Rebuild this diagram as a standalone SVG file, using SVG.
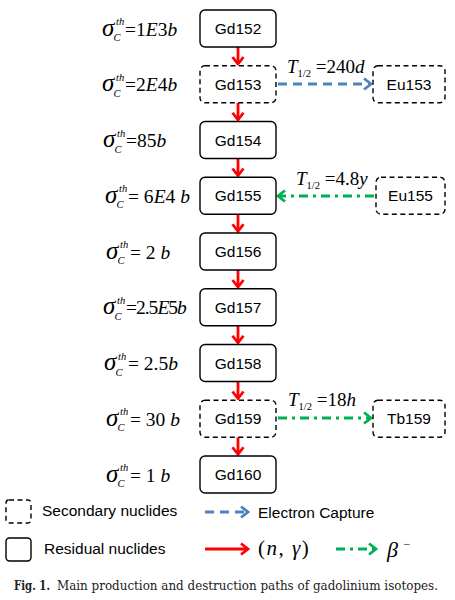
<svg xmlns="http://www.w3.org/2000/svg" width="455" height="600" viewBox="0 0 455 600">
<style>
.box{fill:#fff;stroke:#000;stroke-width:1.4}
.sec{stroke-dasharray:5,3.5}
.lbl{font-family:"Liberation Sans",Arial,sans-serif;font-size:15.5px;text-anchor:middle;fill:#000}
.m{font-family:"Liberation Serif","Times New Roman",serif;fill:#000}
.it{font-style:italic}
.sg{font-size:25px;font-style:italic}
.sp{font-size:10.5px;font-style:italic}
.eq{font-size:19.5px}
.red{stroke:#ff0000;stroke-width:2.8;fill:none}
.blue{stroke:#4f81bd;stroke-width:3;fill:none;stroke-dasharray:9,6}
.green{stroke:#00b050;stroke-width:3;fill:none;stroke-dasharray:9,5,3,5}
.leg{font-family:"Liberation Sans",Arial,sans-serif;font-size:15.5px;fill:#000}
</style>
<defs>
<marker id="ar" markerUnits="userSpaceOnUse" markerWidth="14" markerHeight="14" refX="10" refY="7" orient="auto" overflow="visible"><path d="M3,1.5 L10,7 L3,12.5" fill="none" stroke="#ff0000" stroke-width="2.8"/></marker>
<marker id="ab" markerUnits="userSpaceOnUse" markerWidth="14" markerHeight="14" refX="10" refY="7" orient="auto" overflow="visible"><path d="M3,1.5 L10,7 L3,12.5" fill="none" stroke="#4f81bd" stroke-width="2.8"/></marker>
<marker id="ag" markerUnits="userSpaceOnUse" markerWidth="14" markerHeight="14" refX="10" refY="7" orient="auto" overflow="visible"><path d="M3,1.5 L10,7 L3,12.5" fill="none" stroke="#00b050" stroke-width="2.8"/></marker>
</defs>
<rect width="455" height="600" fill="#fff"/>

<g id="connectors">
<line class="red" x1="238" y1="47" x2="238" y2="64" marker-end="url(#ar)"/>
<line class="red" x1="238" y1="102.75" x2="238" y2="119.75" marker-end="url(#ar)"/>
<line class="red" x1="238" y1="158.5" x2="238" y2="175.5" marker-end="url(#ar)"/>
<line class="red" x1="238" y1="214.25" x2="238" y2="231.25" marker-end="url(#ar)"/>
<line class="red" x1="238" y1="270" x2="238" y2="287" marker-end="url(#ar)"/>
<line class="red" x1="238" y1="325.75" x2="238" y2="342.75" marker-end="url(#ar)"/>
<line class="red" x1="238" y1="381.5" x2="238" y2="398.5" marker-end="url(#ar)"/>
<line class="red" x1="238" y1="437.25" x2="238" y2="454.25" marker-end="url(#ar)"/>
<line class="blue" x1="278" y1="84" x2="371" y2="84" marker-end="url(#ab)"/>
<line class="green" x1="374" y1="196" x2="278" y2="196" marker-end="url(#ag)"/>
<line class="green" x1="278" y1="418" x2="371" y2="418" marker-end="url(#ag)"/>
</g>

<g id="halflife" class="m it">
<text x="287" y="73" font-size="19">T<tspan font-size="10.5" dy="4" font-style="normal">1/2</tspan><tspan dy="-4" font-style="normal"> =240</tspan>d</text>
<text x="296" y="185" font-size="19">T<tspan font-size="10.5" dy="4" font-style="normal">1/2</tspan><tspan dy="-4" font-style="normal"> =4.8</tspan>y</text>
<text x="288" y="406" font-size="19">T<tspan font-size="10.5" dy="4" font-style="normal">1/2</tspan><tspan dy="-4" font-style="normal"> =18</tspan>h</text>
</g>

<g id="sigmas" class="m">
<g id="s0"><text x="102" y="35.5" class="sg">σ</text><text x="116" y="25" class="sp">th</text><text x="113.5" y="41" class="sp">C</text><text x="125" y="35.5" class="eq">=1<tspan font-style="italic">E</tspan>3<tspan font-style="italic">b</tspan></text></g>
<g id="s1"><text x="102" y="91" class="sg">σ</text><text x="116" y="80.5" class="sp">th</text><text x="113.5" y="96.5" class="sp">C</text><text x="125" y="91" class="eq">=2<tspan font-style="italic">E</tspan>4<tspan font-style="italic">b</tspan></text></g>
<g id="s2"><text x="103" y="147" class="sg">σ</text><text x="117" y="136.5" class="sp">th</text><text x="114.5" y="152.5" class="sp">C</text><text x="126" y="147" class="eq">=85<tspan font-style="italic">b</tspan></text></g>
<g id="s3"><text x="105" y="202.5" class="sg">σ</text><text x="119" y="192" class="sp">th</text><text x="116.5" y="208" class="sp">C</text><text x="128" y="202.5" class="eq">= 6<tspan font-style="italic">E</tspan>4 <tspan font-style="italic">b</tspan></text></g>
<g id="s4"><text x="106" y="258.5" class="sg">σ</text><text x="120" y="248" class="sp">th</text><text x="117.5" y="264" class="sp">C</text><text x="130" y="258.5" class="eq">= 2 <tspan font-style="italic">b</tspan></text></g>
<g id="s5"><text x="103" y="314" class="sg">σ</text><text x="117" y="303.5" class="sp">th</text><text x="114.5" y="319.5" class="sp">C</text><text x="126" y="314" class="eq" letter-spacing="-1">=2.5<tspan font-style="italic">E</tspan>5<tspan font-style="italic">b</tspan></text></g>
<g id="s6"><text x="104" y="370" class="sg">σ</text><text x="118" y="359.5" class="sp">th</text><text x="115.5" y="375.5" class="sp">C</text><text x="128" y="370" class="eq">= 2.5<tspan font-style="italic">b</tspan></text></g>
<g id="s7"><text x="106" y="425.5" class="sg">σ</text><text x="120" y="415" class="sp">th</text><text x="117.5" y="431" class="sp">C</text><text x="130" y="425.5" class="eq">= 30 <tspan font-style="italic">b</tspan></text></g>
<g id="s8"><text x="106" y="481.5" class="sg">σ</text><text x="120" y="471" class="sp">th</text><text x="117.5" y="487" class="sp">C</text><text x="130" y="481.5" class="eq">= 1 <tspan font-style="italic">b</tspan></text></g>
</g>

<g id="Gd152"><rect class="box" x="200" y="10" width="76" height="37" rx="5"/><text class="lbl" x="238" y="34">Gd152</text></g>
<g id="Gd153"><rect class="box sec" x="200" y="65.75" width="76" height="37" rx="5"/><text class="lbl" x="238" y="89.75">Gd153</text></g>
<g id="Gd154"><rect class="box" x="200" y="121.5" width="76" height="37" rx="5"/><text class="lbl" x="238" y="145.5">Gd154</text></g>
<g id="Gd155"><rect class="box" x="200" y="177.25" width="76" height="37" rx="5"/><text class="lbl" x="238" y="201.25">Gd155</text></g>
<g id="Gd156"><rect class="box" x="200" y="233" width="76" height="37" rx="5"/><text class="lbl" x="238" y="257">Gd156</text></g>
<g id="Gd157"><rect class="box" x="200" y="288.75" width="76" height="37" rx="5"/><text class="lbl" x="238" y="312.75">Gd157</text></g>
<g id="Gd158"><rect class="box" x="200" y="344.5" width="76" height="37" rx="5"/><text class="lbl" x="238" y="368.5">Gd158</text></g>
<g id="Gd159"><rect class="box sec" x="200" y="400.25" width="76" height="37" rx="5"/><text class="lbl" x="238" y="424.25">Gd159</text></g>
<g id="Gd160"><rect class="box" x="200" y="456" width="76" height="37" rx="5"/><text class="lbl" x="238" y="480">Gd160</text></g>
<g id="Eu153"><rect class="box sec" x="373" y="65.75" width="72" height="37" rx="5"/><text class="lbl" x="409" y="89.75">Eu153</text></g>
<g id="Eu155"><rect class="box sec" x="376" y="177.25" width="69" height="37" rx="5"/><text class="lbl" x="410.5" y="201.25">Eu155</text></g>
<g id="Tb159"><rect class="box sec" x="373" y="400.25" width="72" height="37" rx="5"/><text class="lbl" x="409" y="424.25">Tb159</text></g>

<g id="legend">
<rect class="box sec" x="6" y="500" width="25" height="23" rx="3"/>
<text class="leg" x="42" y="516">Secondary nuclides</text>
<rect class="box" x="6" y="538" width="25" height="23" rx="3.5"/>
<text class="leg" x="44" y="554">Residual nuclides</text>
<line class="blue" x1="205" y1="512" x2="248" y2="512" marker-end="url(#ab)"/>
<text class="leg" x="258" y="518">Electron Capture</text>
<line class="red" x1="205" y1="549" x2="248" y2="549" marker-end="url(#ar)"/>
<text class="m" x="258" y="555" font-size="21" letter-spacing="1.5">(<tspan font-style="italic">n</tspan>, <tspan font-style="italic">γ</tspan>)</text>
<line class="green" x1="336" y1="549" x2="376" y2="549" marker-end="url(#ag)"/>
<text class="m it" x="387" y="557" font-size="22">β <tspan font-size="12" font-style="normal" dy="-9">−</tspan></text>
</g>

<g id="caption" fill="#222">
<text x="14" y="590" font-family="'DejaVu Serif','Liberation Serif',serif" font-size="12.5" font-weight="bold" textLength="36" lengthAdjust="spacingAndGlyphs">Fig. 1.</text>
<text x="57" y="590" font-family="'DejaVu Serif','Liberation Serif',serif" font-size="12.5" textLength="381" lengthAdjust="spacingAndGlyphs">Main production and destruction paths of gadolinium isotopes.</text>
</g>
</svg>
